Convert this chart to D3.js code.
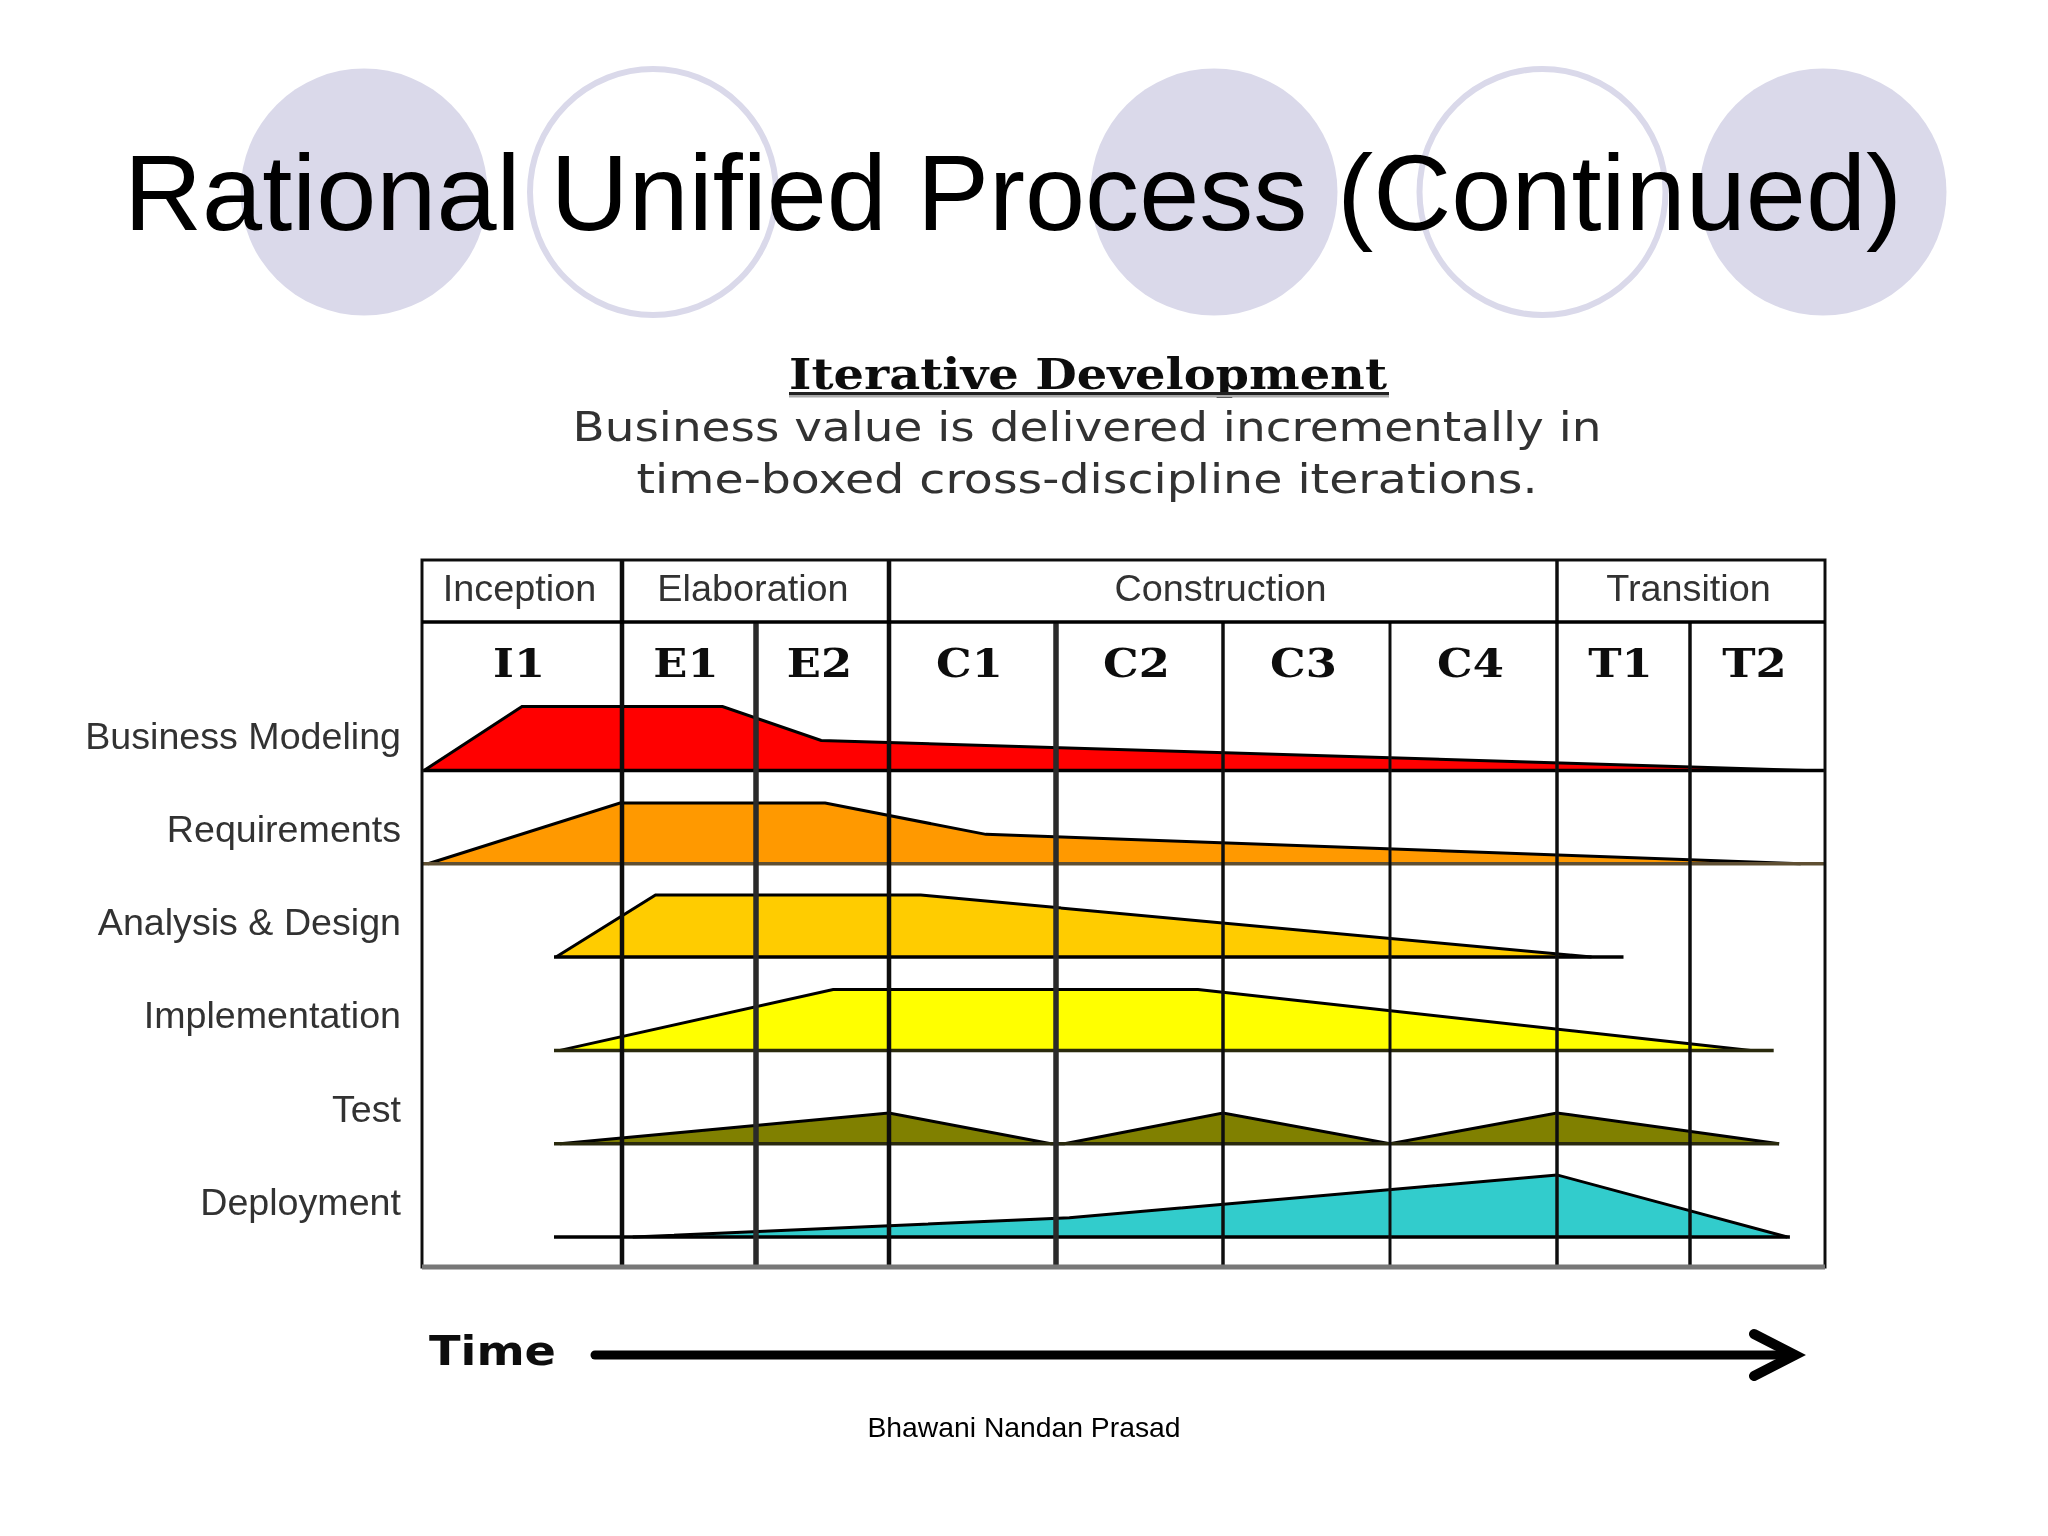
<!DOCTYPE html>
<html><head><meta charset="utf-8">
<style>html,body{margin:0;padding:0;background:#fff}svg{display:block}</style>
<script src="https://cdnjs.cloudflare.com/ajax/libs/d3/7.8.5/d3.min.js"></script>
</head><body><svg id="c" width="2048" height="1536"></svg>
<script>
const titleText = "Rational Unified Process (Continued)";
const headingText = "Iterative Development";
const subLines = ["Business value is delivered incrementally in","time-boxed cross-discipline iterations."];
const footerText = "Bhawani Nandan Prasad";
const axisLabel = "Time";

const phases = ["Inception","Elaboration","Construction","Transition"];
const phaseSpans = [[0,1],[1,3],[3,7],[7,9]];
const iterations = ["I1","E1","E2","C1","C2","C3","C4","T1","T2"];
const disciplines = ["Business Modeling","Requirements","Analysis & Design","Implementation","Test","Deployment"];
const fills = ["#ff0000","#ff9900","#ffcc00","#ffff00","#808000","#33cccc"];

// [iteration position, relative effort]
const businessModeling = [[0.01,0],[0.5,100],[1.75,100],[2.49,47],[8.86,0]];
const requirements = [[0.03,0],[0.99,95],[2.52,95],[3.58,46],[8.82,0]];
const analysisDesign = [[0.67,0],[1.25,97],[3.19,97],[7.26,0]];
const implementation = [[0.69,0],[2.58,95],[4.85,95],[8.45,0]];
const test = [[0.69,0],[3,48],[3.97,0],[4.05,0],[5,48],[6,0],[7,48],[8.66,0]];
const deployment = [[1.08,0],[4.08,30],[7,97],[8.72,0]];
const series = [businessModeling,requirements,analysisDesign,implementation,test,deployment];
// extent of each baseline, in iteration positions
const baselineStart = [0,0,0.66,0.66,0.66,0.66];
const baselineEnd = [9,9,7.5,8.62,8.66,8.74];
const baselineColors = ["#000","#5e5030","#000","#2a2a10","#2a2a10","#000"];
const gridWidths = [0,4.5,5.5,4.5,5.5,3.5,3,3.5,3.5];

const svg = d3.select("#c");
const x = d3.scaleLinear().domain([0,1,2,3,4,5,6,7,8,9]).range([422,622,756,889,1056,1223,1390,1557,1690,1825]);
const laneY = d3.scalePoint().domain(disciplines).range([770.5,1237]);
const effort = d3.scaleLinear().domain([0,100]).range([0,-64]);
const ff = "'Liberation Sans',Arial,sans-serif", fv = "'DejaVu Sans',Verdana,sans-serif", fs = "'DejaVu Serif',serif";
const stretch = (sel,k)=>sel.each(function(){const t=d3.select(this);t.attr("textLength",this.getComputedTextLength()*k).attr("lengthAdjust","spacingAndGlyphs");});

const defs = svg.append("defs");
defs.append("filter").attr("id","soft").attr("x","-5%").attr("y","-5%").attr("width","110%").attr("height","110%")
  .append("feGaussianBlur").attr("stdDeviation",0.7);
defs.append("filter").attr("id","softer").attr("x","-5%").attr("y","-20%").attr("width","110%").attr("height","140%")
  .append("feGaussianBlur").attr("stdDeviation",0.6);

// decorative circles
const deco = svg.append("g");
[[364,192],[1214,192],[1823,192]].forEach(([cx,cy])=>deco.append("circle").attr("cx",cx).attr("cy",cy).attr("r",123.5).attr("fill","#dad9ea"));
[[653,192],[1542.5,192]].forEach(([cx,cy])=>deco.append("circle").attr("cx",cx).attr("cy",cy).attr("r",123).attr("fill","none").attr("stroke","#dad9ea").attr("stroke-width",6));
svg.append("text").attr("x",124).attr("y",230).attr("font-family",ff).attr("font-size",107).attr("fill","#000")
  .attr("textLength",1778).attr("lengthAdjust","spacingAndGlyphs").text(titleText);

const art = svg.append("g").attr("filter","url(#soft)");
// heading
const head = svg.append("g").attr("filter","url(#softer)").attr("text-anchor","middle").attr("font-family",fv);
head.append("text").attr("x",1088).attr("y",389).attr("font-size",42).attr("font-weight","bold").attr("font-family",fs).attr("fill","#111")
  .attr("textLength",598).attr("lengthAdjust","spacingAndGlyphs").text(headingText);
head.append("rect").attr("x",789).attr("y",392).attr("width",600).attr("height",3).attr("fill","#222");
head.append("rect").attr("x",789).attr("y",395).attr("width",600).attr("height",2.5).attr("fill","#aaa");
subLines.forEach((s,i)=>head.append("text").attr("x",1087).attr("y",440.5+i*52.5).attr("font-size",41).attr("fill","#333")
  .attr("textLength",[1029,901][i]).attr("lengthAdjust","spacingAndGlyphs").text(s));

// areas
const area = d3.area().x(d=>x(d[0])).y1(d=>effort(d[1])).y0(0);
disciplines.forEach((d,i)=>{
  const g = art.append("g").attr("transform",`translate(0,${laneY(d)})`);
  g.append("path").attr("d",area(series[i])).attr("fill",fills[i]);
  g.append("path").attr("d",d3.line().x(p=>x(p[0])).y(p=>effort(p[1]))(series[i])).attr("fill","none").attr("stroke","#000").attr("stroke-width",3);
  g.append("line").attr("x1",x(baselineStart[i])).attr("x2",x(baselineEnd[i])).attr("stroke",baselineColors[i]).attr("stroke-width",3.5);
});

// grid
const topY=560, midY=622, botY=1267;
d3.range(1,9).forEach(k=>{
  const isPhase = [1,3,7].includes(k);
  art.append("line").attr("x1",x(k)).attr("x2",x(k)).attr("y1",isPhase?topY:midY).attr("y2",botY)
    .attr("stroke",(k==4||k==2)?"#2a2a2a":"#111").attr("stroke-width",gridWidths[k]);
});
art.append("rect").attr("x",x(0)).attr("y",topY).attr("width",x(9)-x(0)).attr("height",botY-topY).attr("fill","none").attr("stroke","#111").attr("stroke-width",3);
art.append("line").attr("x1",x(0)).attr("x2",x(9)).attr("y1",midY).attr("y2",midY).attr("stroke","#000").attr("stroke-width",3.5);
art.append("line").attr("x1",x(0)).attr("x2",x(9)).attr("y1",botY).attr("y2",botY).attr("stroke","#777").attr("stroke-width",5);

// phase and iteration labels
const txt = svg.append("g").attr("filter","url(#softer)");
stretch(txt.selectAll(".phase").data(phases).join("text").attr("class","phase")
  .attr("x",(p,i)=>(x(phaseSpans[i][0])+x(phaseSpans[i][1]))/2-2.5).attr("y",601).attr("text-anchor","middle")
  .attr("font-family",ff).attr("font-size",36).attr("fill","#333").text(p=>p),1.05);
stretch(txt.selectAll(".iter").data(iterations).join("text").attr("class","iter")
  .attr("x",(t,i)=>(x(i)+x(i+1))/2-3).attr("y",677).attr("text-anchor","middle")
  .attr("font-family",fs).attr("font-weight","bold").attr("font-size",40).attr("fill","#111").text(t=>t),1.12);
stretch(txt.selectAll(".lab").data(disciplines).join("text").attr("class","lab")
  .attr("x",401).attr("y",d=>laneY(d)-22).attr("text-anchor","end")
  .attr("font-family",ff).attr("font-size",36).attr("fill","#333").text(d=>d),1.045);

// time arrow
txt.append("text").attr("x",429).attr("y",1365).attr("font-family",fv).attr("font-weight","bold").attr("font-size",41).attr("fill","#111")
  .attr("textLength",127).attr("lengthAdjust","spacingAndGlyphs").text(axisLabel);
const ax = svg.append("g").attr("stroke","#000").attr("fill","none").attr("stroke-linecap","round");
ax.append("line").attr("x1",595).attr("x2",1790).attr("y1",1355).attr("y2",1355).attr("stroke-width",9);
ax.append("path").attr("d",d3.line()([[1754,1334],[1795,1355],[1754,1376]])).attr("stroke-width",10);

svg.append("text").attr("x",1024).attr("y",1437).attr("text-anchor","middle").attr("font-family",ff).attr("font-size",28.3).attr("fill","#000").text(footerText);
</script></body></html>
